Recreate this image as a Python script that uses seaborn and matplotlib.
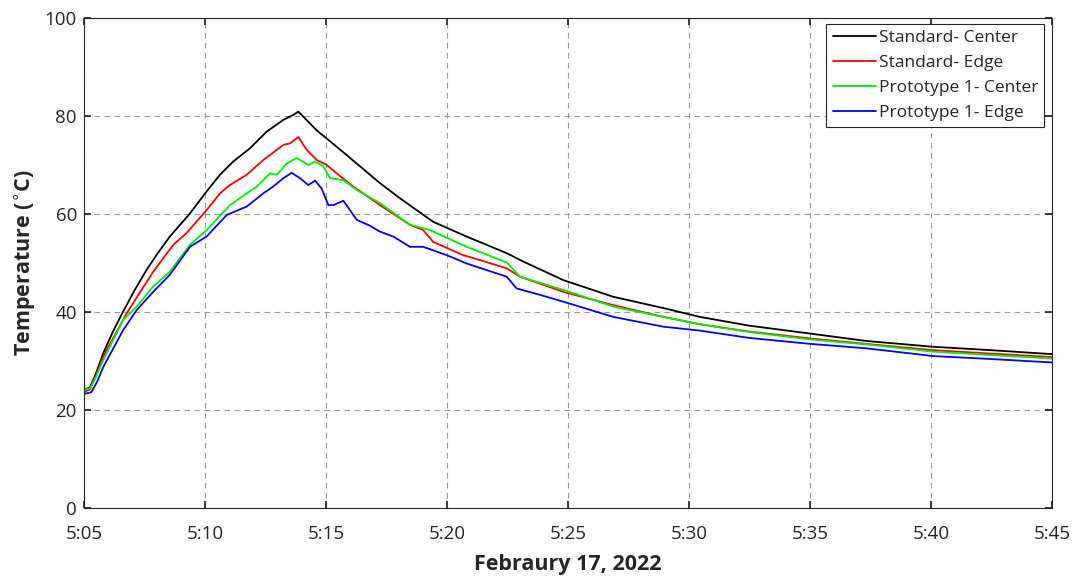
import pandas as pd
import matplotlib
matplotlib.use("Agg")
import matplotlib.pyplot as plt
import matplotlib.dates as mdates
import seaborn as sns

# minutes after 5:05
std_center_t = [0, 0.25, 0.5, 0.8, 1.2, 1.62, 2.1, 2.59, 3.05, 3.55, 4.38, 5.07, 5.62, 6.17, 6.86, 7.55, 8.24, 8.65, 8.86,
                9.61, 10.03, 10.86, 12.23, 13.06, 14.43, 15.81, 17.47, 18.15, 19.81, 21.87, 23.94, 25.45, 27.5, 30.0,
                32.3, 35.1, 37.5, 40.0]
std_center = [24.1, 24.6, 27.5, 31.6, 36.0, 40.1, 44.5, 48.6, 52.0, 55.4, 60.1, 64.6, 68.0, 70.7, 73.4, 76.8, 79.2, 80.2,
              80.9, 77.1, 75.4, 72.0, 66.3, 63.2, 58.4, 55.4, 52.0, 50.3, 46.5, 43.1, 40.8, 39.0, 37.2, 35.6, 34.1,
              32.9, 32.2, 31.4]

std_edge_t = [0, 0.25, 0.5, 0.8, 1.76, 2.86, 3.69, 4.24, 5.07, 5.62, 6.03, 6.72, 7.41, 8.24, 8.51, 8.86, 9.2, 9.62,
              10.03, 10.44, 11.13, 12.23, 13.47, 14.02, 14.43, 15.67, 16.36, 17.47, 18.02, 19.81, 21.87, 23.94, 25.45,
              27.5, 30.0, 32.3, 35.1, 37.5, 40.0]
std_edge = [23.7, 24.2, 27.0, 30.9, 39.7, 48.2, 53.7, 56.1, 60.8, 64.2, 65.9, 68.0, 71.0, 74.1, 74.4, 75.7, 73.1, 71.0,
            70.0, 68.3, 65.6, 61.8, 57.8, 56.7, 54.3, 51.6, 50.6, 48.9, 47.2, 44.1, 41.4, 39.0, 37.5, 36.0, 34.6,
            33.5, 32.2, 31.5, 30.8]

proto_center_t = [0, 0.25, 0.5, 0.8, 1.62, 2.18, 2.86, 3.55, 4.38, 5.07, 6.03, 7.14, 7.69, 7.97, 8.38, 8.79, 9.27, 9.55,
                  9.89, 10.17, 10.72, 11.27, 12.23, 13.47, 14.3, 15.81, 17.47, 18.02, 19.81, 21.87, 23.94, 25.45, 27.5,
                  30.0, 32.3, 35.1, 37.5, 40.0]
proto_center = [24.1, 24.4, 26.8, 30.2, 38.4, 41.1, 45.2, 48.2, 53.7, 56.7, 61.8, 65.6, 68.3, 68.0, 70.3, 71.4, 70.0,
                70.7, 69.7, 67.3, 66.9, 64.9, 62.2, 57.8, 56.7, 53.3, 50.1, 47.2, 44.5, 41.1, 39.0, 37.5, 35.9, 34.4,
                33.4, 31.9, 31.2, 30.5]

proto_edge_t = [0, 0.3, 0.55, 0.8, 1.62, 2.18, 2.86, 3.55, 4.38, 5.07, 5.9, 6.72, 7.41, 7.82, 8.24, 8.58, 8.93, 9.27,
                9.55, 9.82, 10.1, 10.3, 10.72, 11.27, 11.82, 12.23, 12.78, 13.47, 14.02, 14.99, 15.81, 17.47, 17.88,
                18.84, 19.81, 21.87, 23.94, 25.45, 27.5, 30.0, 32.3, 35.1, 37.5, 40.0]
proto_edge = [23.3, 23.6, 25.8, 28.8, 36.3, 40.4, 44.1, 47.6, 53.3, 55.4, 59.8, 61.5, 64.2, 65.6, 67.3, 68.4, 67.3,
              65.9, 66.8, 65.2, 61.8, 61.8, 62.7, 58.8, 57.6, 56.4, 55.4, 53.3, 53.3, 51.6, 49.9, 47.2, 44.8, 43.5,
              42.1, 39.0, 37.0, 36.2, 34.7, 33.5, 32.6, 31.0, 30.4, 29.7]

labels = ['Standard- Center', 'Standard- Edge', 'Prototype 1- Center', 'Prototype 1- Edge']
colors = ['#000000', '#FF0000', '#00EE00', '#0000FF']

start = pd.Timestamp('2022-02-17 05:05')
frames = []
for name, t, v in zip(labels,
                      [std_center_t, std_edge_t, proto_center_t, proto_edge_t],
                      [std_center, std_edge, proto_center, proto_edge]):
    frames.append(pd.DataFrame({'time': start + pd.to_timedelta(t, unit='min'), 'temp': v, 'series': name}))
df = pd.concat(frames, ignore_index=True)

sns.set_theme(style='ticks')
plt.rcParams['font.family'] = ['Open Sans', 'DejaVu Sans']

fig = plt.figure(figsize=(10.76, 5.79), dpi=100)
ax = fig.add_axes([0.078, 0.1226, 0.8997, 0.8464])
sns.lineplot(data=df, x='time', y='temp', hue='series', hue_order=labels,
             palette=dict(zip(labels, colors)), linewidth=1.3, ax=ax)

ax.set_xlim(start, start + pd.Timedelta(minutes=40))
ax.set_ylim(0, 100)
ax.xaxis.set_major_locator(mdates.MinuteLocator(byminute=range(0, 60, 5)))
ax.xaxis.set_major_formatter(mdates.DateFormatter('%-H:%M'))
ax.set_yticks(range(0, 101, 20))

# dashed grid, ticks inside on all four sides
ax.grid(True, linestyle='--', color='#9a9a9a', linewidth=0.8, dashes=(5, 4))
ax.tick_params(direction='in', top=True, right=True, labelsize=13.5, colors='#262626', length=5)
ax.tick_params(axis='x', pad=12)
ax.tick_params(axis='y', pad=5)
for s in ax.spines.values():
    s.set_color('#262626')
    s.set_linewidth(0.8)

ax.set_xlabel('Febraury 17, 2022', fontsize=15.5, fontweight='bold', color='#262626', labelpad=8)
ax.set_ylabel(r'Temperature ($^{\circ}$C)', fontsize=15.5, fontweight='bold', color='#262626', labelpad=5)

leg = ax.legend(loc='upper right', bbox_to_anchor=(0.9917, 0.9878), fontsize=12.5, frameon=True,
                fancybox=False, edgecolor='#262626', framealpha=1, handlelength=2.5,
                handletextpad=0.15, borderpad=0.35, labelspacing=0.5, borderaxespad=0)
leg.get_frame().set_linewidth(0.8)

plt.savefig('out.png', dpi=100)
